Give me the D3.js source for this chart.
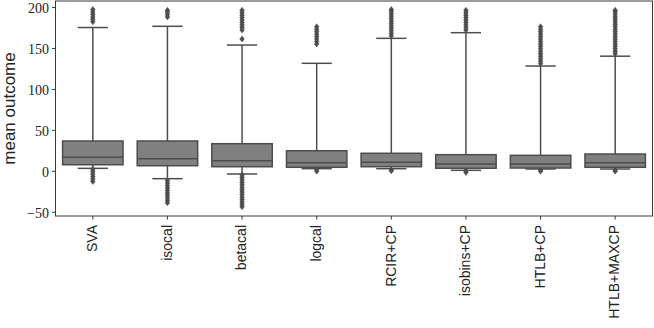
<!DOCTYPE html>
<html lang="en">
<head>
    <meta charset="UTF-8">
    <title>mean outcome</title>
    <style>
        body { margin: 0; background: #fff; }
    </style>
</head>
<script src="https://cdn.jsdelivr.net/npm/d3@7"></script>
<body>
    <svg width="654" height="328"></svg>
</body>

<script>
    // box statistics
    var categories = ["SVA", "isocal", "betacal", "logcal", "RCIR+CP", "isobins+CP", "HTLB+CP", "HTLB+MAXCP"];
    var q1 = [7.4, 6.2, 5.0, 4.3, 5.0, 3.1, 3.4, 4.3];
    var median = [16.5, 14.8, 12.3, 9.9, 10.4, 8.3, 8.3, 9.9];
    var q3 = [36.4, 36.4, 33.1, 24.5, 21.4, 19.7, 18.9, 20.5];
    var whiskerLow = [3.0, -9.6, -3.9, 2.6, 2.6, 0.6, 2.2, 2.2];
    var whiskerHigh = [175, 176.5, 153.6, 131.3, 161.8, 168.7, 128, 140];
    var yTicks = [-50, 0, 50, 100, 150, 200];

    // fliers, one list per category
    var fliers = [
        [182, 185, 188, 191, 194, 197, 2, -1, -4, -7, -10, -13],
        [188, 191, 194, 196, -12, -15, -18, -21, -24, -27, -30, -33, -36, -39],
        [161, 172, 175, 178, 181, 184, 187, 190, 193, 196, -5, -8, -11, -14, -17, -20, -23, -26, -29, -32, -35, -38, -41, -44],
        [155, 158, 161, 164, 167, 170, 173, 176, 1.5, -0.5],
        [165, 168, 171, 174, 177, 180, 183, 186, 189, 192, 195, 197, 1, 0],
        [172, 175, 178, 181, 184, 187, 190, 193, 196, 0, -2],
        [131, 134, 137, 140, 143, 146, 149, 152, 155, 158, 161, 164, 167, 170, 173, 176, 1, -0.5],
        [143, 146, 149, 152, 155, 158, 161, 164, 167, 170, 173, 176, 179, 182, 185, 188, 191, 194, 196, 1, -0.5]
    ];

    var plotL = 55.5, plotR = 652.5, plotT = 1, plotB = 216;
    var boxFill = "#808080", lineCol = "#4d4d4d", axisCol = "#3a3a3a";

    var svg = d3.select("svg");

    var x = d3.scaleBand()
            .domain(categories)
            .range([plotL, plotR])
            .padding(0);
    var y = d3.scaleLinear()
            .domain([-55.2, 207.4])
            .range([plotB, plotT]);

    var boxW = x.bandwidth() * 0.81;
    var capW = boxW / 2;

    var rows = categories.map(function(c, i) {
        return {cat: c, q1: q1[i], med: median[i], q3: q3[i], lo: whiskerLow[i], hi: whiskerHigh[i], out: fliers[i]};
    });

    var g = svg.selectAll("g.box")
            .data(rows)
            .join("g")
            .attr("class", "box");

    function cx(d) { return x(d.cat) + x.bandwidth() / 2; }

    // whiskers
    g.append("line")
            .attr("x1", cx).attr("x2", cx)
            .attr("y1", function(d) { return y(d.q3); })
            .attr("y2", function(d) { return y(d.hi); })
            .attr("stroke", lineCol).attr("stroke-width", 1.5);
    g.append("line")
            .attr("x1", cx).attr("x2", cx)
            .attr("y1", function(d) { return y(d.q1); })
            .attr("y2", function(d) { return y(d.lo); })
            .attr("stroke", lineCol).attr("stroke-width", 1.5);
    // caps
    g.append("line")
            .attr("x1", function(d) { return cx(d) - capW / 2; })
            .attr("x2", function(d) { return cx(d) + capW / 2; })
            .attr("y1", function(d) { return y(d.hi); })
            .attr("y2", function(d) { return y(d.hi); })
            .attr("stroke", lineCol).attr("stroke-width", 1.5);
    g.append("line")
            .attr("x1", function(d) { return cx(d) - capW / 2; })
            .attr("x2", function(d) { return cx(d) + capW / 2; })
            .attr("y1", function(d) { return y(d.lo); })
            .attr("y2", function(d) { return y(d.lo); })
            .attr("stroke", lineCol).attr("stroke-width", 1.5);

    // fliers (thin diamonds)
    g.selectAll("path.flier")
            .data(function(d) {
                return d.out.map(function(v) { return {cx: cx(d), v: v}; });
            })
            .join("path")
            .attr("class", "flier")
            .attr("d", function(d) {
                var px = d.cx, py = y(d.v);
                return "M" + px + "," + (py - 3) + "L" + (px + 2.3) + "," + py +
                       "L" + px + "," + (py + 3) + "L" + (px - 2.3) + "," + py + "Z";
            })
            .attr("fill", lineCol)
            .attr("stroke", lineCol)
            .attr("stroke-width", 0.5);

    // boxes
    g.append("rect")
            .attr("x", function(d) { return cx(d) - boxW / 2; })
            .attr("width", boxW)
            .attr("y", function(d) { return y(d.q3); })
            .attr("height", function(d) { return y(d.q1) - y(d.q3); })
            .attr("fill", boxFill)
            .attr("stroke", lineCol)
            .attr("stroke-width", 1.5);
    // medians
    g.append("line")
            .attr("x1", function(d) { return cx(d) - boxW / 2; })
            .attr("x2", function(d) { return cx(d) + boxW / 2; })
            .attr("y1", function(d) { return y(d.med); })
            .attr("y2", function(d) { return y(d.med); })
            .attr("stroke", lineCol).attr("stroke-width", 1.5);

    // frame
    svg.append("rect")
            .attr("x", plotL).attr("y", plotT)
            .attr("width", plotR - plotL).attr("height", plotB - plotT)
            .attr("fill", "none")
            .attr("stroke", axisCol)
            .attr("stroke-width", 1);

    // y axis
    var yAxis = svg.append("g")
            .attr("transform", "translate(" + plotL + ",0)")
            .call(d3.axisLeft(y).tickValues(yTicks).tickSize(3.5).tickPadding(3));
    yAxis.select(".domain").remove();
    yAxis.selectAll("line").attr("stroke", axisCol);
    yAxis.selectAll("text")
            .attr("fill", "#222")
            .attr("dy", "0.4em")
            .style("font-family", "'Liberation Serif', 'DejaVu Serif', serif")
            .style("font-size", "14px");

    // x axis
    var xAxis = svg.append("g")
            .attr("transform", "translate(0," + plotB + ")")
            .call(d3.axisBottom(x).tickSize(3.5));
    xAxis.select(".domain").remove();
    xAxis.selectAll("line").attr("stroke", axisCol);
    xAxis.selectAll("text")
            .attr("transform", "rotate(-90)")
            .attr("x", -9)
            .attr("y", 0)
            .attr("dy", "0.3em")
            .attr("fill", "#222")
            .style("text-anchor", "end")
            .style("font-family", "'Liberation Sans', Arial, sans-serif")
            .style("font-size", "14px");

    // y label
    svg.append("text")
            .attr("transform", "translate(15," + ((plotT + plotB) / 2) + ") rotate(-90)")
            .attr("text-anchor", "middle")
            .attr("fill", "#222")
            .style("font-family", "'Liberation Sans', Arial, sans-serif")
            .style("font-size", "17px")
            .text("mean outcome");
</script>
</html>
